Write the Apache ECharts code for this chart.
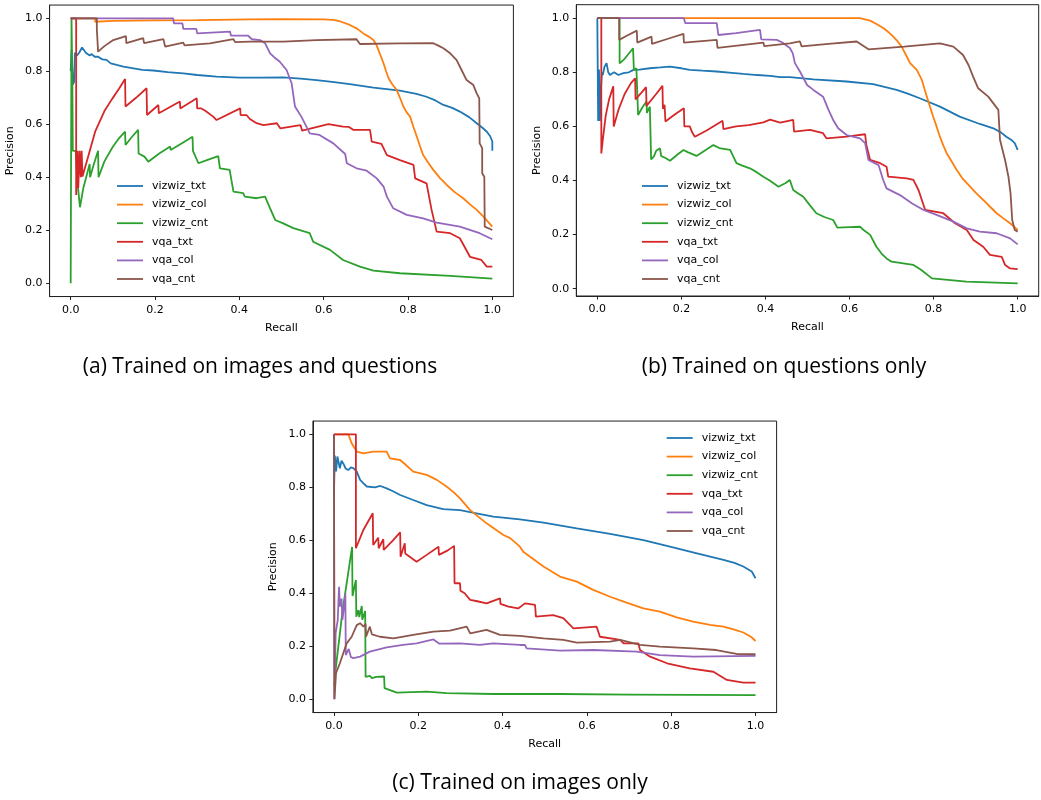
<!DOCTYPE html>
<html>
<head>
<meta charset="utf-8">
<title>PR curves</title>
<script src="https://cdn.jsdelivr.net/npm/echarts@6/dist/echarts.min.js"></script>
<style>
  html, body { margin: 0; padding: 0; background: #fff; }
  #main { width: 1041px; height: 800px; }
</style>
</head>
<body>
<div id="main"></div>
<script>
// names / colours / ticks
var seriesNames = ['vizwiz_txt', 'vizwiz_col', 'vizwiz_cnt', 'vqa_txt', 'vqa_col', 'vqa_cnt'];
var colors = ['#1f77b4', '#ff7f0e', '#2ca02c', '#d62728', '#9467bd', '#8c564b'];
var tickValues = [0, 0.2, 0.4, 0.6, 0.8, 1.0];
var captions = ['(a) Trained on images and questions', '(b) Trained on questions only', '(c) Trained on images only'];

// (a) images and questions  -- [recall, precision]
var a_vizwiz_txt = [[0,0.80],[0.002,0.88],[0.005,0.75],[0.008,0.76],[0.01,0.87],[0.015,0.86],[0.02,0.87],[0.027,0.89],[0.031,0.893],[0.036,0.87],[0.04,0.875],[0.045,0.86],[0.05,0.865],[0.057,0.855],[0.065,0.855],[0.075,0.845],[0.085,0.843],[0.095,0.83],[0.109,0.824],[0.125,0.818],[0.149,0.811],[0.17,0.805],[0.196,0.803],[0.23,0.797],[0.267,0.792],[0.3,0.786],[0.346,0.78],[0.4,0.776],[0.449,0.776],[0.504,0.777],[0.545,0.772],[0.583,0.767],[0.62,0.76],[0.662,0.752],[0.718,0.738],[0.781,0.727],[0.82,0.715],[0.844,0.704],[0.865,0.69],[0.884,0.673],[0.905,0.662],[0.923,0.648],[0.945,0.627],[0.963,0.604],[0.978,0.585],[0.987,0.572],[0.995,0.555],[1.0,0.535],[1.0,0.50]];
var a_vizwiz_col = [[0,1.0],[0.058,1.0],[0.058,0.987],[0.1,0.99],[0.2,0.992],[0.3,0.993],[0.425,0.996],[0.5,0.997],[0.6,0.996],[0.623,0.994],[0.64,0.988],[0.662,0.975],[0.68,0.96],[0.694,0.943],[0.708,0.93],[0.718,0.918],[0.725,0.9],[0.73,0.88],[0.736,0.855],[0.742,0.83],[0.748,0.8],[0.754,0.774],[0.763,0.75],[0.773,0.73],[0.781,0.70],[0.789,0.667],[0.797,0.645],[0.805,0.629],[0.813,0.59],[0.821,0.553],[0.829,0.515],[0.836,0.484],[0.848,0.455],[0.86,0.428],[0.876,0.397],[0.892,0.371],[0.91,0.345],[0.931,0.321],[0.947,0.298],[0.963,0.277],[0.98,0.25],[1.0,0.214]];
var a_vizwiz_cnt = [[0,0],[0.002,1.0],[0.004,0.75],[0.005,0.5],[0.012,0.5],[0.015,0.4],[0.022,0.287],[0.03,0.36],[0.045,0.45],[0.046,0.40],[0.055,0.45],[0.065,0.5],[0.066,0.40],[0.08,0.46],[0.1,0.515],[0.115,0.548],[0.129,0.572],[0.13,0.522],[0.145,0.552],[0.16,0.579],[0.161,0.49],[0.175,0.478],[0.184,0.459],[0.21,0.49],[0.236,0.516],[0.237,0.503],[0.26,0.525],[0.289,0.553],[0.29,0.50],[0.303,0.453],[0.323,0.465],[0.35,0.48],[0.354,0.434],[0.377,0.428],[0.386,0.346],[0.409,0.34],[0.413,0.327],[0.441,0.321],[0.461,0.327],[0.473,0.283],[0.485,0.239],[0.504,0.226],[0.528,0.208],[0.567,0.189],[0.575,0.157],[0.615,0.126],[0.646,0.088],[0.686,0.063],[0.718,0.048],[0.781,0.038],[0.9,0.028],[1.0,0.018]];
var a_vqa_txt = [[0,1.0],[0.013,1.0],[0.013,0.333],[0.016,0.5],[0.018,0.36],[0.021,0.5],[0.024,0.4],[0.026,0.5],[0.028,0.403],[0.04,0.47],[0.058,0.572],[0.08,0.65],[0.098,0.695],[0.115,0.735],[0.129,0.771],[0.13,0.667],[0.155,0.70],[0.18,0.736],[0.181,0.635],[0.208,0.673],[0.209,0.642],[0.259,0.686],[0.26,0.66],[0.299,0.698],[0.3,0.66],[0.31,0.66],[0.32,0.65],[0.338,0.629],[0.346,0.616],[0.402,0.66],[0.403,0.635],[0.417,0.635],[0.425,0.62],[0.441,0.604],[0.457,0.597],[0.489,0.604],[0.497,0.585],[0.545,0.597],[0.549,0.576],[0.611,0.601],[0.646,0.591],[0.66,0.59],[0.67,0.579],[0.71,0.579],[0.714,0.535],[0.737,0.526],[0.75,0.484],[0.781,0.465],[0.813,0.447],[0.817,0.396],[0.844,0.377],[0.856,0.277],[0.868,0.195],[0.9,0.189],[0.923,0.17],[0.947,0.1],[0.974,0.088],[0.987,0.063],[1.0,0.063]];
var a_vqa_col = [[0,1.0],[0.243,1.0],[0.245,0.981],[0.265,0.981],[0.267,0.96],[0.298,0.96],[0.3,0.943],[0.378,0.95],[0.38,0.935],[0.42,0.935],[0.43,0.921],[0.449,0.918],[0.461,0.906],[0.473,0.868],[0.485,0.85],[0.496,0.836],[0.512,0.805],[0.524,0.755],[0.532,0.667],[0.547,0.629],[0.563,0.579],[0.567,0.566],[0.59,0.56],[0.623,0.528],[0.651,0.488],[0.655,0.453],[0.678,0.434],[0.702,0.425],[0.726,0.396],[0.742,0.365],[0.75,0.327],[0.765,0.283],[0.797,0.258],[0.836,0.245],[0.868,0.229],[0.923,0.214],[0.97,0.189],[1.0,0.166]];
var a_vqa_cnt = [[0,1.0],[0.062,1.0],[0.062,0.96],[0.064,0.96],[0.065,0.874],[0.08,0.895],[0.101,0.918],[0.131,0.933],[0.132,0.906],[0.172,0.925],[0.174,0.906],[0.22,0.921],[0.224,0.893],[0.267,0.908],[0.27,0.898],[0.33,0.905],[0.386,0.921],[0.39,0.91],[0.425,0.912],[0.504,0.912],[0.583,0.918],[0.678,0.921],[0.686,0.903],[0.78,0.905],[0.86,0.906],[0.872,0.897],[0.884,0.887],[0.9,0.868],[0.915,0.843],[0.927,0.805],[0.939,0.767],[0.955,0.748],[0.963,0.717],[0.969,0.698],[0.97,0.528],[0.976,0.51],[0.976,0.415],[0.981,0.402],[0.982,0.214],[1.0,0.201]];

// (b) questions only
var b_vizwiz_txt = [[0,1.0],[0.002,0.62],[0.004,0.81],[0.006,0.62],[0.009,0.75],[0.011,0.80],[0.013,0.79],[0.017,0.82],[0.022,0.834],[0.026,0.80],[0.03,0.79],[0.04,0.80],[0.05,0.79],[0.062,0.797],[0.075,0.80],[0.086,0.809],[0.1,0.81],[0.125,0.815],[0.15,0.818],[0.173,0.821],[0.2,0.815],[0.22,0.809],[0.25,0.806],[0.284,0.803],[0.32,0.798],[0.347,0.794],[0.38,0.79],[0.411,0.787],[0.435,0.782],[0.458,0.782],[0.514,0.774],[0.593,0.766],[0.656,0.756],[0.712,0.735],[0.74,0.72],[0.767,0.704],[0.815,0.673],[0.862,0.636],[0.91,0.609],[0.942,0.593],[0.96,0.578],[0.973,0.562],[0.985,0.55],[0.993,0.538],[1.0,0.513]];
var b_vizwiz_col = [[0,1.0],[0.3,1.0],[0.625,1.0],[0.649,0.991],[0.665,0.978],[0.681,0.963],[0.693,0.948],[0.704,0.932],[0.714,0.915],[0.724,0.895],[0.734,0.865],[0.744,0.834],[0.76,0.809],[0.772,0.772],[0.778,0.74],[0.784,0.71],[0.792,0.67],[0.799,0.636],[0.807,0.6],[0.815,0.562],[0.823,0.53],[0.831,0.501],[0.843,0.47],[0.855,0.439],[0.87,0.405],[0.887,0.377],[0.9,0.355],[0.918,0.328],[0.935,0.302],[0.95,0.279],[0.966,0.26],[0.982,0.242],[1.0,0.217]];
var b_vizwiz_cnt = [[0,1.0],[0.053,1.0],[0.053,0.833],[0.065,0.85],[0.085,0.889],[0.087,0.808],[0.093,0.815],[0.096,0.815],[0.097,0.642],[0.107,0.67],[0.117,0.692],[0.118,0.65],[0.125,0.673],[0.128,0.478],[0.135,0.49],[0.14,0.51],[0.149,0.519],[0.152,0.49],[0.16,0.485],[0.173,0.473],[0.19,0.495],[0.205,0.513],[0.215,0.505],[0.236,0.491],[0.255,0.51],[0.276,0.531],[0.29,0.52],[0.316,0.513],[0.331,0.464],[0.345,0.455],[0.363,0.445],[0.38,0.43],[0.395,0.414],[0.41,0.40],[0.431,0.377],[0.447,0.39],[0.458,0.402],[0.466,0.365],[0.478,0.352],[0.49,0.34],[0.505,0.31],[0.521,0.279],[0.54,0.265],[0.561,0.254],[0.571,0.226],[0.6,0.228],[0.625,0.229],[0.635,0.215],[0.649,0.199],[0.664,0.155],[0.676,0.13],[0.688,0.112],[0.7,0.10],[0.752,0.088],[0.77,0.07],[0.796,0.038],[0.878,0.026],[1.0,0.02]];
var b_vqa_txt = [[0,1.0],[0.0095,1.0],[0.0095,0.5],[0.013,0.55],[0.02,0.64],[0.028,0.70],[0.038,0.748],[0.039,0.60],[0.05,0.66],[0.065,0.72],[0.08,0.76],[0.09,0.778],[0.091,0.70],[0.105,0.725],[0.116,0.745],[0.117,0.676],[0.14,0.72],[0.155,0.75],[0.156,0.665],[0.16,0.68],[0.162,0.618],[0.185,0.645],[0.206,0.667],[0.207,0.60],[0.22,0.60],[0.225,0.58],[0.232,0.562],[0.26,0.585],[0.298,0.621],[0.3,0.59],[0.33,0.60],[0.36,0.605],[0.395,0.615],[0.411,0.625],[0.435,0.614],[0.466,0.624],[0.468,0.581],[0.506,0.587],[0.537,0.575],[0.545,0.556],[0.593,0.562],[0.637,0.571],[0.64,0.531],[0.649,0.476],[0.673,0.464],[0.688,0.451],[0.692,0.414],[0.736,0.408],[0.752,0.402],[0.764,0.365],[0.78,0.291],[0.823,0.279],[0.851,0.242],[0.879,0.217],[0.895,0.18],[0.918,0.155],[0.934,0.125],[0.962,0.118],[0.97,0.088],[0.982,0.075],[1.0,0.072]];
var b_vqa_col = [[0,1.0],[0.206,1.0],[0.209,0.982],[0.284,0.982],[0.288,0.938],[0.33,0.945],[0.387,0.957],[0.39,0.922],[0.427,0.92],[0.44,0.91],[0.458,0.89],[0.465,0.87],[0.47,0.834],[0.482,0.803],[0.499,0.753],[0.514,0.735],[0.537,0.71],[0.55,0.661],[0.561,0.624],[0.573,0.593],[0.593,0.568],[0.625,0.556],[0.637,0.538],[0.645,0.476],[0.669,0.457],[0.68,0.402],[0.688,0.371],[0.72,0.346],[0.748,0.316],[0.776,0.291],[0.807,0.273],[0.847,0.248],[0.879,0.223],[0.91,0.211],[0.95,0.205],[0.982,0.186],[1.0,0.164]];
var b_vqa_cnt = [[0,1.0],[0.052,1.0],[0.052,0.92],[0.07,0.935],[0.094,0.954],[0.095,0.91],[0.129,0.932],[0.13,0.905],[0.17,0.925],[0.205,0.942],[0.206,0.91],[0.284,0.92],[0.286,0.89],[0.395,0.91],[0.397,0.897],[0.458,0.907],[0.482,0.914],[0.486,0.896],[0.55,0.905],[0.617,0.914],[0.645,0.885],[0.73,0.895],[0.815,0.907],[0.847,0.895],[0.87,0.864],[0.883,0.827],[0.894,0.784],[0.906,0.741],[0.93,0.71],[0.954,0.661],[0.958,0.55],[0.97,0.476],[0.978,0.414],[0.983,0.353],[0.987,0.254],[0.993,0.217],[1.0,0.211]];

// (c) images only
var c_vizwiz_txt = [[0,0.78],[0.002,0.92],[0.005,0.86],[0.008,0.916],[0.014,0.872],[0.018,0.9],[0.022,0.89],[0.028,0.87],[0.034,0.865],[0.04,0.875],[0.046,0.872],[0.054,0.859],[0.062,0.828],[0.07,0.815],[0.078,0.803],[0.097,0.80],[0.11,0.805],[0.125,0.796],[0.14,0.785],[0.157,0.771],[0.188,0.752],[0.22,0.733],[0.259,0.718],[0.299,0.714],[0.338,0.702],[0.378,0.689],[0.418,0.683],[0.441,0.679],[0.497,0.667],[0.576,0.645],[0.655,0.624],[0.734,0.601],[0.797,0.576],[0.861,0.551],[0.924,0.526],[0.95,0.515],[0.971,0.501],[0.991,0.482],[1.0,0.457]];
var c_vizwiz_col = [[0,1.0],[0.034,1.0],[0.042,0.966],[0.048,0.95],[0.054,0.935],[0.07,0.928],[0.093,0.935],[0.125,0.935],[0.133,0.909],[0.157,0.903],[0.17,0.885],[0.188,0.859],[0.22,0.847],[0.244,0.828],[0.267,0.803],[0.285,0.78],[0.299,0.758],[0.323,0.714],[0.362,0.664],[0.402,0.62],[0.418,0.608],[0.441,0.576],[0.449,0.557],[0.497,0.501],[0.536,0.463],[0.576,0.444],[0.615,0.413],[0.655,0.387],[0.694,0.365],[0.734,0.343],[0.773,0.331],[0.813,0.309],[0.852,0.293],[0.892,0.281],[0.924,0.274],[0.95,0.263],[0.971,0.252],[0.99,0.235],[1.0,0.22]];
var c_vizwiz_cnt = [[0.001,0.05],[0.003,0.1],[0.02,0.33],[0.043,0.575],[0.044,0.39],[0.052,0.45],[0.053,0.312],[0.058,0.337],[0.06,0.31],[0.066,0.352],[0.067,0.30],[0.074,0.333],[0.075,0.085],[0.085,0.088],[0.09,0.08],[0.1,0.085],[0.119,0.086],[0.12,0.042],[0.149,0.025],[0.22,0.029],[0.267,0.023],[0.378,0.02],[0.536,0.02],[0.7,0.018],[1.0,0.016]];
var c_vqa_txt = [[0,1.0],[0.052,1.0],[0.052,0.57],[0.07,0.64],[0.092,0.702],[0.093,0.582],[0.105,0.61],[0.106,0.57],[0.117,0.604],[0.118,0.564],[0.14,0.6],[0.157,0.63],[0.158,0.538],[0.168,0.589],[0.169,0.55],[0.196,0.519],[0.22,0.545],[0.248,0.576],[0.249,0.545],[0.27,0.562],[0.285,0.579],[0.286,0.438],[0.299,0.438],[0.3,0.41],[0.31,0.40],[0.323,0.375],[0.34,0.37],[0.362,0.362],[0.394,0.381],[0.395,0.36],[0.414,0.35],[0.437,0.343],[0.453,0.362],[0.477,0.356],[0.479,0.312],[0.52,0.318],[0.544,0.306],[0.568,0.268],[0.623,0.274],[0.631,0.236],[0.679,0.224],[0.687,0.211],[0.722,0.211],[0.726,0.186],[0.75,0.161],[0.79,0.136],[0.844,0.117],[0.9,0.104],[0.932,0.073],[0.971,0.063],[1.0,0.063]];
var c_vqa_col = [[0,1.0],[0.001,0.0],[0.004,0.25],[0.009,0.3],[0.012,0.425],[0.014,0.35],[0.018,0.38],[0.02,0.30],[0.024,0.35],[0.027,0.40],[0.028,0.167],[0.035,0.19],[0.04,0.16],[0.046,0.155],[0.062,0.161],[0.085,0.18],[0.125,0.196],[0.164,0.205],[0.196,0.211],[0.236,0.226],[0.25,0.21],[0.299,0.211],[0.346,0.205],[0.378,0.211],[0.441,0.205],[0.453,0.205],[0.457,0.192],[0.536,0.184],[0.615,0.186],[0.718,0.18],[0.773,0.167],[0.852,0.161],[1.0,0.164]];
var c_vqa_cnt = [[0,1.0],[0.001,0.0],[0.005,0.1],[0.014,0.136],[0.03,0.211],[0.042,0.236],[0.054,0.28],[0.062,0.287],[0.07,0.274],[0.075,0.285],[0.076,0.236],[0.085,0.274],[0.09,0.245],[0.109,0.236],[0.141,0.23],[0.188,0.243],[0.236,0.255],[0.275,0.259],[0.315,0.274],[0.323,0.249],[0.362,0.262],[0.394,0.243],[0.441,0.239],[0.497,0.23],[0.544,0.224],[0.576,0.214],[0.655,0.218],[0.679,0.224],[0.726,0.205],[0.773,0.199],[0.852,0.192],[0.907,0.186],[0.955,0.171],[1.0,0.17]];

var panels = [
    [a_vizwiz_txt, a_vizwiz_col, a_vizwiz_cnt, a_vqa_txt, a_vqa_col, a_vqa_cnt],
    [b_vizwiz_txt, b_vizwiz_col, b_vizwiz_cnt, b_vqa_txt, b_vqa_col, b_vqa_cnt],
    [c_vizwiz_txt, c_vizwiz_col, c_vizwiz_cnt, c_vqa_txt, c_vqa_col, c_vqa_cnt]
];

var font = 'DejaVu Sans';
var frameColor = '#222';
var lineW = 1.8;

// plot boxes (matplotlib axes, incl. 5% margins)
var grids = [
    { left: 49.6, top: 5.05, width: 463.8, height: 291.5 },
    { left: 576.3, top: 4.7, width: 462.4, height: 291.3 },
    { left: 312.9, top: 421.05, width: 463.7, height: 291.5 }
];
var yRanges = [[-0.05, 1.05], [-0.027, 1.05], [-0.05, 1.05]];
// top = centre of first legend row
var legendPos = [{ left: 117, top: 186 }, { left: 642, top: 186 }, { left: 666.7, top: 438 }];
var captionPos = [[260, 367], [784, 367], [520, 783]];

var fmt = function (v) { return v.toFixed(1); };

var gridArr = [], xAxes = [], yAxes = [], seriesArr = [], legends = [], texts = [];
for (var g = 0; g < 3; g++) {
    gridArr.push({
        left: grids[g].left, top: grids[g].top, width: grids[g].width, height: grids[g].height,
        show: true, borderColor: frameColor, borderWidth: 1, backgroundColor: 'transparent'
    });
    xAxes.push({
        type: 'value', gridIndex: g, min: -0.05, max: 1.05,
        name: 'Recall', nameLocation: 'middle', nameGap: 26,
        nameTextStyle: { fontFamily: font, fontSize: 11, color: '#000' },
        axisLine: { show: true, onZero: false, lineStyle: { color: frameColor, width: 1 } },
        axisTick: { show: true, length: 3.5, customValues: tickValues, lineStyle: { color: frameColor } },
        axisLabel: { customValues: tickValues, formatter: fmt, margin: 8, fontFamily: font, fontSize: 11, color: '#000' },
        splitLine: { show: false }
    });
    yAxes.push({
        type: 'value', gridIndex: g, min: yRanges[g][0], max: yRanges[g][1],
        name: 'Precision', nameLocation: 'middle', nameGap: 34,
        nameTextStyle: { fontFamily: font, fontSize: 11, color: '#000' },
        axisLine: { show: true, onZero: false, lineStyle: { color: frameColor, width: 1 } },
        axisTick: { show: true, length: 3.5, customValues: tickValues, lineStyle: { color: frameColor } },
        axisLabel: { customValues: tickValues, formatter: fmt, margin: 7, fontFamily: font, fontSize: 11, color: '#000' },
        splitLine: { show: false }
    });
    for (var i = 0; i < seriesNames.length; i++) {
        seriesArr.push({
            name: seriesNames[i], type: 'line', xAxisIndex: g, yAxisIndex: g,
            data: panels[g][i], symbol: 'none', smooth: false,
            lineStyle: { color: colors[i], width: lineW },
            itemStyle: { color: colors[i] }
        });
    }
    legends.push({
        data: seriesNames, orient: 'vertical', left: legendPos[g].left, top: legendPos[g].top - 7,
        padding: 0, icon: 'rect', itemWidth: 26, itemHeight: lineW, itemGap: 4.6, selectedMode: false,
        textStyle: { fontFamily: font, fontSize: 11, color: '#000', lineHeight: 14, padding: [0, 0, 0, 4] }
    });
    texts.push({
        type: 'text', x: captionPos[g][0], y: captionPos[g][1],
        style: { text: captions[g], font: '21px "Open Sans"', fill: '#000', align: 'center', verticalAlign: 'middle' }
    });
}

var myChart = echarts.init(document.getElementById('main'));
myChart.setOption({
    animation: false,
    backgroundColor: '#fff',
    grid: gridArr,
    xAxis: xAxes,
    yAxis: yAxes,
    legend: legends,
    series: seriesArr,
    graphic: texts
});
</script>
</body>
</html>
